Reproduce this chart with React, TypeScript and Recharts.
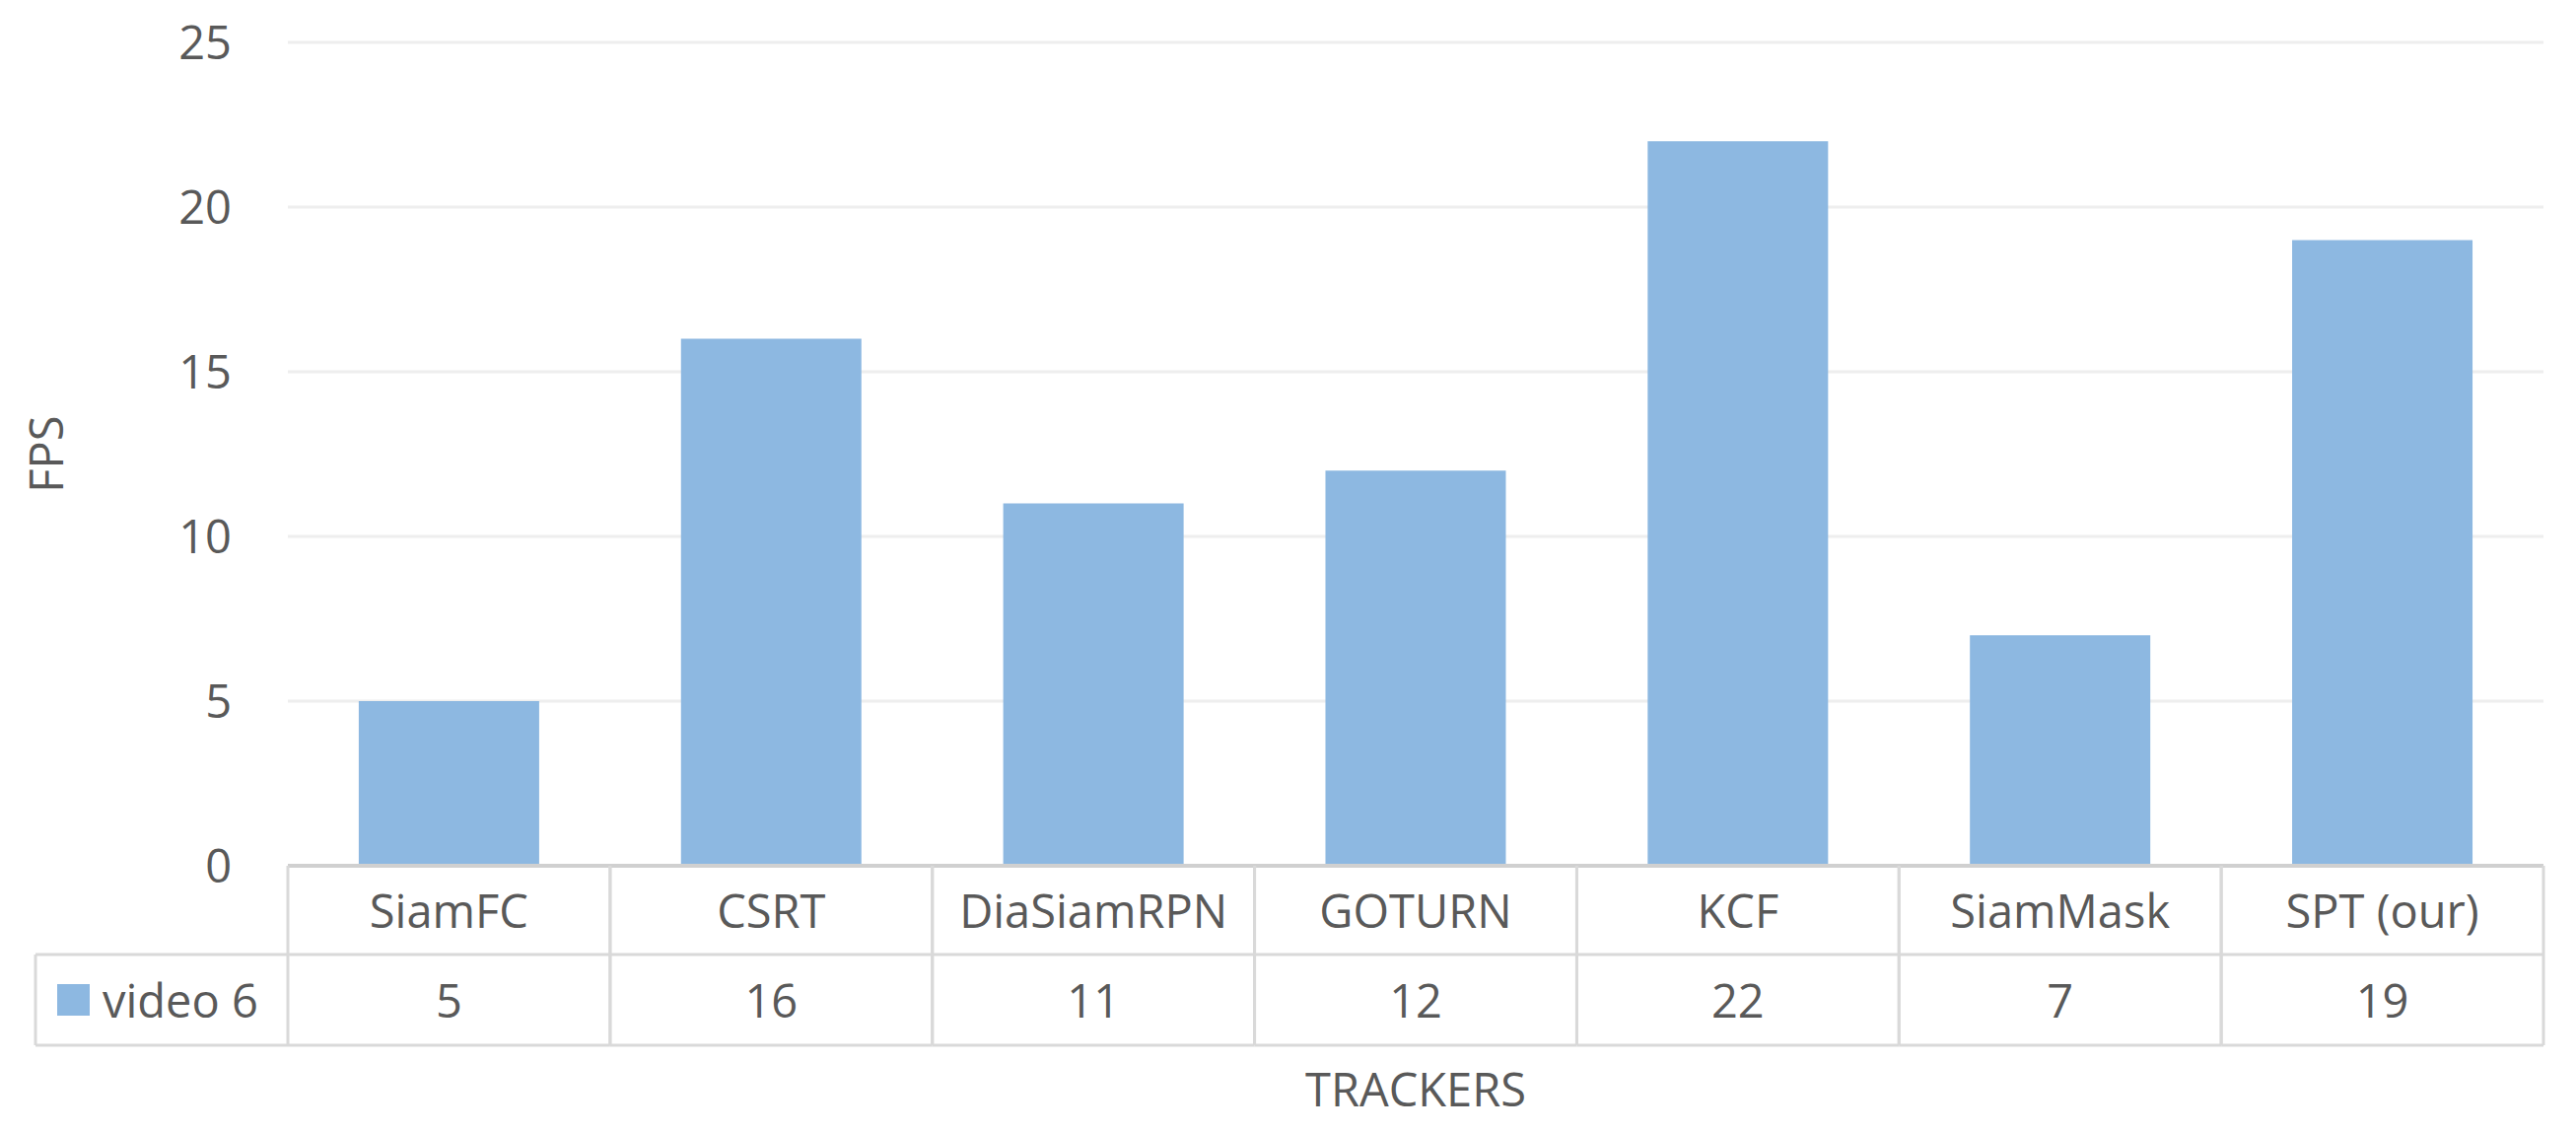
import React from 'react';
import { BarChart, Bar, XAxis, YAxis, CartesianGrid, Label } from 'recharts';

const categories = ['SiamFC', 'CSRT', 'DiaSiamRPN', 'GOTURN', 'KCF', 'SiamMask', 'SPT (our)'];
const video6 = [5, 16, 11, 12, 22, 7, 19];
const yTicks = [0, 5, 10, 15, 20, 25];
const seriesName = 'video 6';
const xTitle = 'TRACKERS';
const yTitle = 'FPS';

const data = categories.map((c, i) => ({ name: c, value: video6[i] }));

const CHART_W = 2613;
const CHART_H = 1149;
const MARGIN = { top: 43, right: 33, bottom: 0, left: 0 };
const YAXIS_W = 292;
const XAXIS_H = 271;
const PLOT_W = CHART_W - MARGIN.left - MARGIN.right - YAXIS_W;
const ROW1_H = 90;
const ROW2_H = 92;
const LEGEND_LEFT = 36;

const FONT = '"Open Sans", sans-serif';
const TEXT_COLOR = '#595959';
const BORDER = '#d9d9d9';
const BAR_COLOR = '#8DB8E1';
const FS = 47;

const TableTick = (props: any) => {
  const { x, y, payload, index } = props;
  const n = categories.length;
  const cw = PLOT_W / n;
  const left = x - cw / 2;
  const right = x + cw / 2;
  const r1 = y + ROW1_H;
  const r2 = r1 + ROW2_H;
  const i = typeof index === 'number' ? index : categories.indexOf(payload.value);
  const val = video6[i];
  return (
    <g>
      <line x1={left} y1={y} x2={left} y2={r2} stroke={BORDER} strokeWidth={3} />
      <line x1={right} y1={y} x2={right} y2={r2} stroke={BORDER} strokeWidth={3} />
      <line x1={left} y1={r1} x2={right} y2={r1} stroke={BORDER} strokeWidth={3} />
      <line x1={left} y1={r2} x2={right} y2={r2} stroke={BORDER} strokeWidth={3} />
      <text x={x} y={y + ROW1_H / 2} textAnchor="middle" dominantBaseline="central" fill={TEXT_COLOR} fontSize={FS} fontFamily={FONT}>
        {payload.value}
      </text>
      <text x={x} y={r1 + ROW2_H / 2} textAnchor="middle" dominantBaseline="central" fill={TEXT_COLOR} fontSize={FS} fontFamily={FONT}>
        {val}
      </text>
      {i === 0 && (
        <g>
          <line x1={LEGEND_LEFT} y1={r1} x2={left} y2={r1} stroke={BORDER} strokeWidth={3} />
          <line x1={LEGEND_LEFT} y1={r2} x2={left} y2={r2} stroke={BORDER} strokeWidth={3} />
          <line x1={LEGEND_LEFT} y1={r1} x2={LEGEND_LEFT} y2={r2} stroke={BORDER} strokeWidth={3} />
          <rect x={58} y={r1 + ROW2_H / 2 - 16} width={33} height={32} fill={BAR_COLOR} />
          <text x={104} y={r1 + ROW2_H / 2} textAnchor="start" dominantBaseline="central" fill={TEXT_COLOR} fontSize={FS} fontFamily={FONT}>
            {seriesName}
          </text>
        </g>
      )}
    </g>
  );
};

export default function App() {
  return (
    <div style={{ position: 'absolute', left: 0, top: 0, width: CHART_W, height: CHART_H, background: '#fff' }}>
      <BarChart width={CHART_W} height={CHART_H} data={data} margin={MARGIN} barCategoryGap="22%">
        <CartesianGrid vertical={false} stroke="#eeeeee" strokeWidth={3} />
        <XAxis
          dataKey="name"
          height={XAXIS_H}
          tickLine={false}
          tickSize={0}
          tickMargin={0}
          interval={0}
          axisLine={{ stroke: '#d0d0d0', strokeWidth: 4 }}
          tick={<TableTick />}
        >
          <Label value={xTitle} position="insideBottom" offset={27} fill={TEXT_COLOR} fontSize={FS} fontFamily={FONT} />
        </XAxis>
        <YAxis
          width={YAXIS_W}
          domain={[0, 25]}
          ticks={yTicks}
          interval={0}
          axisLine={false}
          tickLine={false}
          tickSize={6}
          tickMargin={51}
          tick={{ fill: TEXT_COLOR, fontSize: FS, fontFamily: FONT }}
        >
          <Label value={yTitle} angle={-90} position="insideLeft" offset={47} fill={TEXT_COLOR} fontSize={FS} fontFamily={FONT} style={{ textAnchor: 'middle' }} />
        </YAxis>
        <Bar dataKey="value" fill={BAR_COLOR} isAnimationActive={false} />
      </BarChart>
    </div>
  );
}
